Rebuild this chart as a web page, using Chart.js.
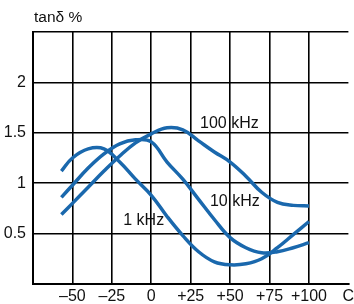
<!DOCTYPE html>
<html>
<head>
<meta charset="utf-8">
<script src="https://cdn.jsdelivr.net/npm/chart.js@4/dist/chart.umd.min.js"></script>
<style>
  body { margin: 0; background: #fff; }
  #wrap { width: 354px; height: 304px; }
</style>
</head>
<body>
<div id="wrap"><canvas id="tanChart" width="354" height="304"></canvas></div>
<script>
// temperature (°C) and tan delta (%)
let temps = [-57, -50, -40, -30, -20, -10, 0, 10, 20, 30, 40, 50, 60, 70, 80, 90, 100];
let tan1k   = [1.12, 1.25, 1.34, 1.34, 1.21, 1.04, 0.88, 0.67, 0.48, 0.32, 0.22, 0.19, 0.20, 0.25, 0.36, 0.49, 0.62];
let tan10k  = [0.86, 0.98, 1.15, 1.29, 1.39, 1.43, 1.41, 1.21, 1.04, 0.84, 0.64, 0.46, 0.36, 0.31, 0.32, 0.36, 0.41];
let tan100k = [0.69, 0.80, 0.96, 1.12, 1.27, 1.40, 1.49, 1.55, 1.53, 1.42, 1.31, 1.21, 1.07, 0.91, 0.81, 0.78, 0.775];

let xTicks = { "-50": "\u201350", "-25": "\u201325", "0": "0", "25": "+25", "50": "+50", "75": "+75", "100": "+100", "125": "C" };
let yTicks = { "0.5": "0.5", "1": "1", "1.5": "1.5", "2": "2" };

// curve names, placed in data units
let curveLabels = [
    { text: "100 kHz", x: 49.5, y: 1.59 },
    { text: "10 kHz", x: 53, y: 0.815 },
    { text: "1 kHz", x: -4.8, y: 0.626 }
];

const blue = "#1a68ad";
const font = "'Liberation Sans', Arial, sans-serif";

function toPoints(vals) {
    return temps.map((t, i) => ({ x: t, y: vals[i] }));
}

function lineSet(vals) {
    return {
        data: toPoints(vals),
        borderColor: blue,
        borderWidth: 3.5,
        pointRadius: 0,
        tension: 0.4,
        fill: false
    };
}

// extra texts: axis title and curve names
let textPlugin = {
    id: "texts",
    afterDatasetsDraw(chart) {
        let c = chart.ctx;
        let xs = chart.scales.x;
        let ys = chart.scales.y;
        c.save();
        c.fillStyle = "#111";
        c.font = "15.5px " + font;
        c.textBaseline = "middle";
        c.textAlign = "left";
        c.fillText("tan\u03b4 %", 34, 18);
        c.font = "16px " + font;
        c.textAlign = "center";
        curveLabels.forEach(l => {
            c.fillText(l.text, xs.getPixelForValue(l.x), ys.getPixelForValue(l.y));
        });
        c.restore();
    }
};

let ctx = document.getElementById("tanChart").getContext("2d");

let chart = new Chart(ctx, {
    type: "line",
    data: {
        datasets: [lineSet(tan1k), lineSet(tan10k), lineSet(tan100k)]
    },
    options: {
        responsive: false,
        animation: false,
        layout: { padding: { top: 32, right: 5.6, left: 0, bottom: 0 } },
        plugins: { legend: { display: false }, tooltip: { enabled: false } },
        scales: {
            x: {
                type: "linear",
                min: -75,
                max: 125,
                afterBuildTicks(scale) {
                    scale.ticks = Object.keys(xTicks).map(Number).concat([-75]).sort((a, b) => a - b).map(v => ({ value: v }));
                },
                afterFit(scale) {
                    scale.height = 20;
                    scale.paddingLeft = 0;
                    scale.paddingRight = 0;
                },
                ticks: {
                    autoSkip: false,
                    maxRotation: 0,
                    padding: 3,
                    color: "#111",
                    font: { family: font, size: 16 },
                    callback: v => xTicks[String(v)] || ""
                },
                grid: {
                    drawTicks: false,
                    lineWidth: 1.6,
                    color: c => (c.tick && c.tick.value === 125) ? "rgba(0,0,0,0)" : "#000"
                },
                border: { display: true, color: "#000", width: 2 }
            },
            y: {
                min: 0,
                max: 2.5,
                afterBuildTicks(scale) {
                    scale.ticks = [0, 0.5, 1, 1.5, 2, 2.5].map(v => ({ value: v }));
                },
                afterFit(scale) {
                    scale.width = 33;
                    scale.paddingTop = 0;
                    scale.paddingBottom = 0;
                },
                ticks: {
                    padding: 7,
                    color: "#111",
                    font: { family: font, size: 16 },
                    callback: v => yTicks[String(v)] || ""
                },
                grid: { drawTicks: false, lineWidth: 1.6, color: "#000" },
                border: { display: true, color: "#000", width: 2 }
            }
        }
    },
    plugins: [textPlugin]
});
</script>
</body>
</html>
